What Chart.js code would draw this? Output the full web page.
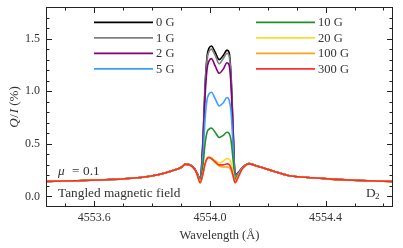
<!DOCTYPE html>
<html><head><meta charset="utf-8">
<script src="https://cdn.jsdelivr.net/npm/chart.js@4/dist/chart.umd.min.js"></script>
<style>html,body{margin:0;padding:0;background:#fff;}canvas{display:block;}</style>
</head><body>
<canvas id="c" width="403" height="248"></canvas>
<script>
// ---- data ----
const wavelength = [4553.43,4553.53,4553.64,4553.76,4553.82,4553.87,4553.90,4553.915,4553.93,4553.945,4553.955,
  4553.966,4553.976,4553.983,4553.990,4553.997,4554.005,4554.018,4554.032,4554.046,4554.059,4554.066,4554.073,4554.080,4554.087,
  4554.097,4554.110,4554.125,4554.135,4554.155,4554.18,4554.22,4554.27,4554.33,4554.42,4554.52,4554.64];
const fieldLabels = ['0 G','1 G','2 G','5 G','10 G','20 G','100 G','300 G'];
const fieldColors = ['#000000','#808080','#800080','#3d9cff','#22902a','#ffd92f','#ffa21a','#ff2d2d'];
const q0G   = [0.143,0.150,0.159,0.181,0.207,0.245,0.275,0.307,0.302,0.270,0.225, 0.170,0.55,1.05,1.33,1.41,1.43,1.37,1.30,1.34,1.39,1.37,1.15,0.65,0.200, 0.225,0.265,0.302,0.312,0.297,0.276,0.240,0.200,0.182,0.165,0.152,0.142];
const q1G   = [0.143,0.150,0.159,0.181,0.207,0.245,0.275,0.307,0.302,0.270,0.225, 0.170,0.54,1.02,1.30,1.38,1.40,1.34,1.26,1.31,1.36,1.34,1.12,0.63,0.200, 0.225,0.265,0.302,0.312,0.297,0.276,0.240,0.200,0.182,0.165,0.152,0.142];
const q2G   = [0.143,0.150,0.159,0.181,0.207,0.245,0.275,0.307,0.302,0.270,0.225, 0.170,0.50,0.95,1.21,1.29,1.31,1.24,1.17,1.21,1.27,1.25,1.05,0.60,0.200, 0.225,0.265,0.302,0.312,0.297,0.276,0.240,0.200,0.182,0.165,0.152,0.142];
const q5G   = [0.143,0.150,0.159,0.181,0.207,0.245,0.275,0.307,0.302,0.268,0.222, 0.165,0.40,0.73,0.92,0.975,0.99,0.93,0.86,0.89,0.94,0.92,0.80,0.48,0.190, 0.218,0.262,0.301,0.311,0.296,0.276,0.240,0.200,0.182,0.165,0.152,0.142];
const q10G  = [0.143,0.150,0.159,0.181,0.207,0.245,0.275,0.306,0.301,0.266,0.218, 0.160,0.30,0.50,0.61,0.64,0.65,0.61,0.56,0.58,0.61,0.60,0.53,0.35,0.165, 0.205,0.260,0.300,0.310,0.295,0.275,0.240,0.200,0.182,0.165,0.152,0.142];
const q20G  = [0.143,0.150,0.159,0.181,0.207,0.245,0.275,0.305,0.300,0.265,0.215, 0.140,0.22,0.31,0.365,0.375,0.37,0.34,0.32,0.335,0.36,0.355,0.32,0.23,0.140, 0.190,0.256,0.300,0.310,0.295,0.275,0.240,0.200,0.182,0.165,0.152,0.142];
const q100G = [0.143,0.150,0.159,0.181,0.207,0.245,0.275,0.305,0.300,0.265,0.215, 0.130,0.22,0.31,0.36,0.37,0.36,0.32,0.29,0.28,0.28,0.275,0.25,0.19,0.130, 0.180,0.255,0.300,0.310,0.295,0.275,0.240,0.200,0.182,0.165,0.152,0.142];
const q300G = [0.143,0.150,0.159,0.181,0.207,0.245,0.275,0.305,0.300,0.265,0.215, 0.130,0.22,0.31,0.36,0.37,0.36,0.33,0.30,0.30,0.31,0.305,0.27,0.20,0.130, 0.180,0.255,0.300,0.310,0.295,0.275,0.240,0.200,0.182,0.165,0.152,0.142];
const seriesValues = [q0G,q1G,q2G,q5G,q10G,q20G,q100G,q300G];
const xTickValues = [4553.6, 4554.0, 4554.4];
const yTickValues = [0.0, 0.5, 1.0, 1.5];
const xMin = 4553.433, xMax = 4554.633, yMin = -0.1, yMax = 1.8;

// ---- chart ----
const F = '"Liberation Serif", "DejaVu Serif", serif';
const TXT = '#333';
const datasets = seriesValues.map((vals, i) => ({
  label: fieldLabels[i],
  data: vals.map((v, j) => ({x: wavelength[j], y: v})),
  borderColor: fieldColors[i],
  backgroundColor: fieldColors[i],
  borderWidth: 1.6,
  pointRadius: 0,
  fill: false,
  cubicInterpolationMode: 'monotone',
  order: seriesValues.length - i
}));

function range(a, b, step) { const r = []; for (let v = a; v <= b + 1e-9; v += step) r.push(+v.toFixed(3)); return r; }
const xMinor = range(4553.5, 4554.6, 0.1);
const yMinor = range(0.0, 1.8, 0.1);

const frameTicks = {
  id: 'frameTicks',
  afterDraw(chart) {
    const {ctx, chartArea: a, scales: {x, y}} = chart;
    ctx.save();
    ctx.strokeStyle = '#222';
    ctx.lineWidth = 1;
    ctx.strokeRect(Math.round(a.left) + 0.5, Math.round(a.top) + 0.5, Math.round(a.right - a.left) - 1, Math.round(a.bottom - a.top) - 1);
    ctx.beginPath();
    const isMaj = (v, arr) => arr.some(t => Math.abs(t - v) < 1e-6);
    xMinor.forEach(v => {
      const px = Math.round(x.getPixelForValue(v)) + 0.5;
      const L = isMaj(v, xTickValues) ? 6 : 3.5;
      ctx.moveTo(px, a.bottom); ctx.lineTo(px, a.bottom - L);
      ctx.moveTo(px, a.top); ctx.lineTo(px, a.top + L);
    });
    yMinor.forEach(v => {
      const py = Math.round(y.getPixelForValue(v)) + 0.5;
      const L = isMaj(v, yTickValues) ? 6 : 3.5;
      ctx.moveTo(a.left, py); ctx.lineTo(a.left + L, py);
      ctx.moveTo(a.right, py); ctx.lineTo(a.right - L, py);
    });
    ctx.stroke();

    // legend (two columns)
    ctx.textBaseline = 'middle';
    ctx.textAlign = 'left';
    ctx.font = '12.5px ' + F;
    fieldLabels.forEach((lab, i) => {
      const col = Math.floor(i / 4), row = i % 4;
      const x0 = a.left + (col === 0 ? 48 : 210);
      const yy = a.top + 15.3 + row * 15.5;
      ctx.strokeStyle = fieldColors[i];
      ctx.lineWidth = 1.8;
      ctx.beginPath(); ctx.moveTo(x0, yy); ctx.lineTo(x0 + 59, yy); ctx.stroke();
      ctx.fillStyle = TXT;
      ctx.fillText(lab, x0 + 62, yy + 0.5);
    });

    // annotations
    ctx.fillStyle = TXT;
    ctx.font = 'italic 13.3px ' + F;
    ctx.fillText('μ', a.left + 12, a.top + 165);
    ctx.font = '13.3px ' + F;
    ctx.fillText('=', a.left + 26, a.top + 165);
    ctx.fillText('0.1', a.left + 37, a.top + 165);
    ctx.fillText('Tangled magnetic field', a.left + 12, a.top + 187);
    ctx.fillText('D', a.right - 27, a.top + 187);
    ctx.font = '9px ' + F;
    ctx.fillText('2', a.right - 18, a.top + 190);

    // y-axis title with italic Q and I
    const parts = [['Q', 'italic '], ['/', ''], ['I', 'italic '], [' (%)', '']];
    const fs = '13px ';
    let total = 0;
    const widths = parts.map(p => { ctx.font = p[1] + fs + F; const w = ctx.measureText(p[0]).width + (p[0] === '/' ? 1.5 : 0); total += w; return w; });
    ctx.translate(15, (a.top + a.bottom) / 2);
    ctx.rotate(-Math.PI / 2);
    let cx = -total / 2;
    parts.forEach((p, i) => { ctx.font = p[1] + fs + F; ctx.fillText(p[0], cx + (p[0] === '/' ? 0.75 : 0), 0); cx += widths[i]; });
    ctx.restore();
  }
};

new Chart(document.getElementById('c'), {
  type: 'line',
  data: {datasets},
  options: {
    responsive: false,
    animation: false,
    devicePixelRatio: 1,
    layout: {padding: {left: 0, right: 10, top: 7, bottom: 0}},
    plugins: {legend: {display: false}, tooltip: {enabled: false}},
    scales: {
      x: {
        type: 'linear', min: xMin, max: xMax,
        border: {display: false},
        grid: {display: false, drawTicks: false},
        afterBuildTicks: s => { s.ticks = xTickValues.map(v => ({value: v})); },
        ticks: {padding: 4, color: TXT, font: {family: F, size: 12}, callback: v => v.toFixed(1), maxRotation: 0, autoSkip: false},
        title: {display: true, text: 'Wavelength (Å)', color: TXT, font: {family: F, size: 12.5}, padding: {top: 0, bottom: 5}},
        afterFit: s => { s.height = 41; s.paddingLeft = 0; s.paddingRight = 0; s.paddingTop = 0; s.paddingBottom = 0; }
      },
      y: {
        type: 'linear', min: yMin, max: yMax,
        border: {display: false},
        grid: {display: false, drawTicks: false},
        afterBuildTicks: s => { s.ticks = yTickValues.map(v => ({value: v})); },
        ticks: {padding: 6, color: TXT, font: {family: F, size: 12}, callback: v => v.toFixed(1), autoSkip: false},
        afterFit: s => { s.width = 46; s.paddingLeft = 0; s.paddingRight = 0; s.paddingTop = 0; s.paddingBottom = 0; }
      }
    }
  },
  plugins: [frameTicks]
});
</script>
</body></html>
